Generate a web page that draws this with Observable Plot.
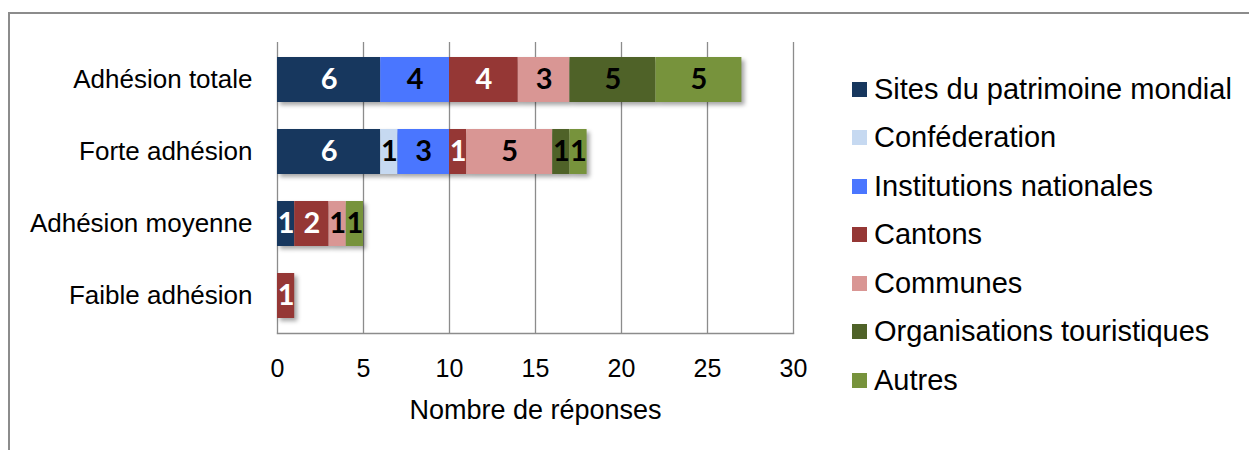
<!DOCTYPE html>
<html>
<head>
<meta charset="utf-8">
<script src="https://cdn.jsdelivr.net/npm/d3@7"></script>
<script src="https://cdn.jsdelivr.net/npm/@observablehq/plot@0.6"></script>
<style>
  html, body { margin: 0; padding: 0; background: #fff; }
  #wrap { position: relative; width: 1249px; height: 450px; overflow: hidden; font-family: "Liberation Sans", Arial, sans-serif; }
  #border { position: absolute; left: 8px; top: 12px; width: 1260px; height: 460px; border-top: 2px solid #8c8c8c; border-left: 2px solid #8c8c8c; box-sizing: border-box; }
  #chart { position: absolute; left: 0; top: 0; }
  #legend { position: absolute; left: 852px; top: 65px; }
  .li { display: flex; align-items: center; height: 48.5px; font-size: 29px; color: #000; white-space: nowrap; }
  .sw { width: 15px; height: 15px; margin-right: 7px; flex: none; }
  g[aria-label="bar"] { filter: drop-shadow(3px 3px 2px rgba(0,0,0,0.35)); }
</style>
</head>
<body>
<div id="wrap">
  <div id="border"></div>
  <div id="chart"></div>
  <div id="legend"></div>
</div>
<script>
const categories = ["Adhésion totale", "Forte adhésion", "Adhésion moyenne", "Faible adhésion"];
const seriesNames = ["Sites du patrimoine mondial", "Conféderation", "Institutions nationales", "Cantons", "Communes", "Organisations touristiques", "Autres"];
const seriesColors = ["#17375E", "#C6D9F1", "#4A76FF", "#953735", "#D99694", "#4F6228", "#77933C"];
const labelColors = ["#fff", "#000", "#000", "#fff", "#000", "#000", "#000"];
const sites = [6, 6, 1, 0];
const confederation = [0, 1, 0, 0];
const institutions = [4, 3, 0, 0];
const cantons = [4, 1, 2, 1];
const communes = [3, 5, 1, 0];
const organisations = [5, 1, 0, 0];
const autres = [5, 1, 1, 0];
const xTicks = [0, 5, 10, 15, 20, 25, 30];

const seriesValues = [sites, confederation, institutions, cantons, communes, organisations, autres];
const data = [];
seriesNames.forEach((s, si) => {
  categories.forEach((c, ci) => {
    const v = seriesValues[si][ci];
    if (v > 0) data.push({category: c, series: s, value: v, si});
  });
});

const stackOpts = {x: "value", y: "category", z: "series", order: seriesNames};

const chart = Plot.plot({
  width: 1249,
  height: 450,
  marginLeft: 277,
  marginRight: 456,
  marginTop: 42,
  marginBottom: 117,
  style: {fontFamily: "'Liberation Sans', Arial, sans-serif", background: "transparent", color: "#000"},
  x: {domain: [0, 30], ticks: xTicks, label: null},
  y: {domain: categories, paddingInner: 0.37, paddingOuter: 0.185, label: null},
  color: {domain: seriesNames, range: seriesColors},
  marks: [
    Plot.ruleX(xTicks, {stroke: "#8c8c8c", strokeWidth: 1.3}),
    Plot.frame({anchor: "bottom", stroke: "#8c8c8c", strokeWidth: 1.5}),
    Plot.barX(data, Plot.stackX({...stackOpts, fill: "series"})),
    Plot.text(data, Plot.stackX({...stackOpts, text: "value",
      fill: d => labelColors[d.si],
      fontSize: 29, fontWeight: "bold",
      fontFamily: "Lato, 'Open Sans', sans-serif"})),
    Plot.axisX({ticks: xTicks, tickSize: 0, tickPadding: 26, fontSize: 25, label: null}),
    Plot.axisY({tickSize: 0, tickPadding: 25, fontSize: 26, label: null}),
    Plot.text(["Nombre de réponses"], {frameAnchor: "bottom", dy: 77, fontSize: 27, lineAnchor: "middle"})
  ]
});
document.getElementById("chart").appendChild(chart);

const legend = document.getElementById("legend");
seriesNames.forEach((s, i) => {
  const row = document.createElement("div");
  row.className = "li";
  const sw = document.createElement("span");
  sw.className = "sw";
  sw.style.background = seriesColors[i];
  const t = document.createElement("span");
  t.textContent = s;
  row.appendChild(sw);
  row.appendChild(t);
  legend.appendChild(row);
});
</script>
</body>
</html>
